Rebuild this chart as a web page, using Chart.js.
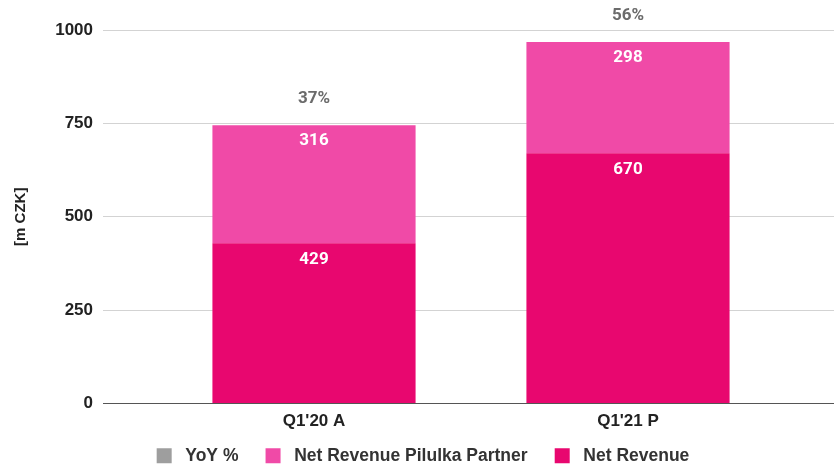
<!DOCTYPE html>
<html>
<head>
<meta charset="utf-8">
<script src="https://cdn.jsdelivr.net/npm/chart.js@4.4.0/dist/chart.umd.min.js"></script>
<style>
  html, body { margin: 0; padding: 0; background: #fff; }
  #wrap { width: 834px; height: 465px; }
</style>
</head>
<body>
<div id="wrap"><canvas id="chart"></canvas></div>
<script>
// Datos del gráfico
const quarters = ["Q1'20 A", "Q1'21 P"];
const netRevenue = [429, 670];
const partnerRevenue = [316, 298];
const yoyPct = [37, 56];
const yTicks = [0, 250, 500, 750, 1000];

// Total de cada barra, donde se coloca la etiqueta YoY
const totals = netRevenue.map((v, i) => v + partnerRevenue[i]);

const gridColor = (ctx) =>
  ctx.tick && ctx.tick.value === 0 ? "#555555" : "#d3d3d3";

// Etiquetas de valores dentro de las barras y el % encima
const barLabels = {
  id: "barLabels",
  afterDatasetsDraw(chart) {
    const ctx = chart.ctx;
    ctx.save();
    ctx.textAlign = "center";
    ctx.textBaseline = "middle";
    ctx.font = "bold 17px Roboto";
    chart.data.datasets.forEach((ds, di) => {
      const meta = chart.getDatasetMeta(di);
      meta.data.forEach((el, i) => {
        if (ds.type === "line") {
          ctx.fillStyle = "#6b6b6b";
          ctx.fillText(yoyPct[i] + "%", el.x, el.y - 26);
        } else {
          ctx.fillStyle = "#ffffff";
          ctx.fillText(ds.data[i], el.x, el.y + 16);
        }
      });
    });
    ctx.restore();
  },
};

const chart = new Chart(document.getElementById("chart"), {
  type: "bar",
  data: {
    labels: quarters,
    datasets: [
      {
        label: "Net Revenue",
        data: netRevenue,
        backgroundColor: "#e8076f",
        borderWidth: 0,
        barPercentage: 0.647,
        categoryPercentage: 1,
      },
      {
        label: "Net Revenue Pilulka Partner",
        data: partnerRevenue,
        backgroundColor: "#f04aa7",
        borderWidth: 0,
        barPercentage: 0.647,
        categoryPercentage: 1,
      },
      {
        type: "line",
        label: "YoY %",
        data: totals,
        stack: "yoy",
        showLine: false,
        pointRadius: 0,
        backgroundColor: "#9e9e9e",
        borderColor: "#9e9e9e",
        borderWidth: 0,
      },
    ],
  },
  options: {
    responsive: true,
    maintainAspectRatio: false,
    animation: false,
    layout: { padding: { top: 30, bottom: -9.5, left: 12, right: 0 } },
    plugins: {
      tooltip: { enabled: false },
      legend: {
        position: "bottom",
        reverse: true,
        labels: {
          boxWidth: 15,
          boxHeight: 15,
          padding: 13.5,
          color: "#333333",
          font: { family: "Liberation Sans", size: 17.5, weight: "bold" },
          // espacio extra entre cuadro, texto y siguiente elemento
          generateLabels: (c) => {
            const items = Chart.defaults.plugins.legend.labels.generateLabels(c);
            return items.map((l) => ({
              ...l,
              text: " " + l.text + (l.datasetIndex === 0 ? "" : "\u2002 "),
            }));
          },
        },
      },
    },
    scales: {
      x: {
        stacked: true,
        grid: { display: false },
        border: { display: false },
        ticks: {
          padding: 0,
          color: "#222222",
          font: { family: "Liberation Sans", size: 17, weight: "bold" },
        },
        afterFit: (s) => {
          s.height = 30;
        },
      },
      y: {
        stacked: true,
        min: 0,
        max: 1000,
        afterBuildTicks: (s) => {
          s.ticks = yTicks.map((v) => ({ value: v }));
        },
        grid: { color: gridColor, tickLength: 54 },
        border: { display: false },
        ticks: {
          padding: 10,
          color: "#222222",
          font: { family: "Liberation Sans", size: 17, weight: "bold" },
          callback: (v) => String(v),
        },
        title: {
          display: true,
          text: "[m CZK]",
          color: "#222222",
          font: { family: "Liberation Sans", size: 15, weight: "bold" },
          padding: { top: 0, bottom: 0 },
        },
        afterFit: (s) => {
          s.width = 145;
          s.paddingTop = 0;
          s.paddingBottom = 0;
        },
      },
      y2: {
        position: "right",
        min: 0,
        max: 1000,
        afterBuildTicks: (s) => {
          s.ticks = yTicks.map((v) => ({ value: v }));
        },
        grid: { color: gridColor, tickLength: 49, drawOnChartArea: false },
        border: { display: false },
        ticks: { display: false },
        afterFit: (s) => {
          s.width = 49;
          s.paddingTop = 0;
          s.paddingBottom = 0;
        },
      },
    },
  },
  plugins: [barLabels],
});
</script>
</body>
</html>
